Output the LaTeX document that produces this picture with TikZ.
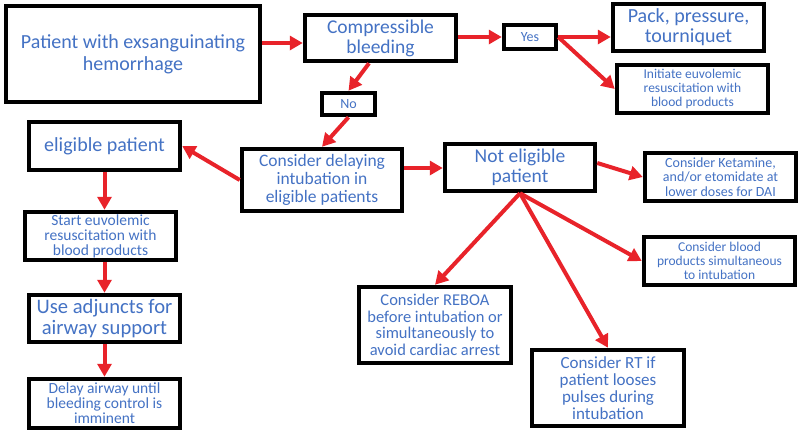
\documentclass[tikz,border=0pt]{standalone}
\usepackage{fontspec}
\setmainfont{Carlito}
\usetikzlibrary{arrows.meta}
\definecolor{txtblue}{HTML}{4472C4}
\definecolor{arrred}{HTML}{E8232A}
\tikzset{
  box/.style={draw=black, line width=4.5pt, fill=white, text=txtblue, align=center, inner sep=1pt},
  arr/.style={draw=arrred, line width=4pt, -{Triangle[length=13pt,width=14pt]}, shorten >=0pt},
}
\newcommand{\fs}[2]{\fontsize{#1}{#2}\selectfont}
\begin{document}
\begin{tikzpicture}[x=1pt,y=-1pt]
\useasboundingbox (0,0) rectangle (800,432);
% boxes
\node[box, minimum width=254, minimum height=96, font=\fs{20}{22}] (pat) at (133,54) {Patient with exsanguinating\\hemorrhage};
\node[box, minimum width=151, minimum height=46, font=\fs{19.5}{20}] (comp) at (380.5,38) {Compressible\\bleeding};
\node[box, minimum width=53, minimum height=22, font=\fs{14}{14}] (no) at (348.5,104) {No};
\node[box, minimum width=52, minimum height=24, font=\fs{14}{14}] (yes) at (530,37) {Yes};
\node[box, minimum width=151, minimum height=47, font=\fs{20}{20}] (pack) at (688.5,27.5) {Pack, pressure,\\tourniquet};
\node[box, minimum width=151, minimum height=48, font=\fs{13.5}{14}] (init) at (692.5,89) {Initiate euvolemic\\resuscitation with\\blood products};
\node[box, minimum width=151, minimum height=48, font=\fs{20}{20}] (elig) at (104.5,146) {eligible patient};
\node[box, minimum width=160, minimum height=62, font=\fs{17.5}{18}] (delay) at (322,180) {Consider delaying\\intubation in\\eligible patients};
\node[box, minimum width=150, minimum height=47, font=\fs{19.5}{20}] (noteli) at (520,167.5) {Not eligible\\patient};
\node[box, minimum width=151, minimum height=48, font=\fs{14}{14.5}] (ket) at (720.5,177) {Consider Ketamine,\\and/or etomidate at\\lower doses for DAI};
\node[box, minimum width=151, minimum height=48, font=\fs{13.5}{14}] (blood) at (719.5,261) {Consider blood\\products simultaneous\\to intubation};
\node[box, minimum width=151, minimum height=48, font=\fs{15.5}{15}] (start) at (100.5,236) {Start euvolemic\\resuscitation with\\blood products};
\node[box, minimum width=151, minimum height=47, font=\fs{20.6}{21.5}] (adj) at (104.5,318.5) {Use adjuncts for\\airway support};
\node[box, minimum width=151, minimum height=49, font=\fs{15.5}{15}] (dair) at (104.5,403.5) {Delay airway until\\bleeding control is\\imminent};
\node[box, minimum width=152, minimum height=76, font=\fs{16.5}{16.5}] (reboa) at (435,325) {Consider REBOA\\before intubation or\\simultaneously to\\avoid cardiac arrest};
\node[box, minimum width=152, minimum height=76, font=\fs{17}{17}] (rt) at (608,388) {Consider RT if\\patient looses\\pulses during\\intubation};
% arrows
\draw[arr] (pat.east |- 0,43) -- (comp.west |- 0,43);
\draw[arr] ([xshift=-11.5pt]comp.south) -- (no.north);
\draw[arr] (no.south) -- (delay.north);
\draw[arr] (comp.east |- yes.west) -- (yes.west);
\draw[arr] (yes.east) -- (pack.west |- yes.east);
\draw[arr] (yes.east) -- (init.west);
\draw[arr] (delay.west) -- (elig.east);
\draw[arr] (delay.east |- 0,168) -- (noteli.west |- 0,168);
\draw[arr] (noteli.east |- 0,163) -- (ket.west);
\draw[arr] (noteli.south) -- (blood.west);
\draw[arr] (noteli.south) -- (reboa.north);
\draw[arr] (noteli.south) -- (rt.north);
\draw[arr] (elig.south) -- (elig.south |- start.north);
\draw[arr] (adj.north |- start.south) -- (adj.north);
\draw[arr] (adj.south) -- (dair.north);
\end{tikzpicture}
\end{document}
